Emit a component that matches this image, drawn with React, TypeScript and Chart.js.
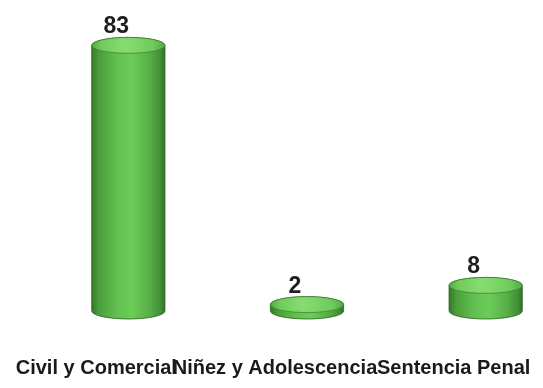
import React, { useEffect, useRef } from "react";
import { Chart, registerables } from "chart.js";

Chart.register(...registerables);

// Causas por fuero
const categories = ["Civil y Comercial", "Niñez y Adolescencia", "Sentencia Penal"];
const casos = [83, 2, 8];
const yMax = 90;

// Visual constants for the 3D cylinders
const DEPTH_SHIFT = 32; // cylinders sit behind the category labels
const CAP_RY = 8; // vertical radius of the elliptical caps
const LABEL_SHIFT = -12; // value labels sit slightly left of the cylinder axis
const FONT = "'Liberation Sans', Arial, sans-serif";
const X_AXIS_HEIGHT = 70;

const cylinderPlugin = {
  id: "cylinders",
  afterDatasetsDraw(chart: any) {
    const ctx: CanvasRenderingContext2D = chart.ctx;
    const meta = chart.getDatasetMeta(0);
    const values = chart.data.datasets[0].data as number[];
    meta.data.forEach((bar: any, i: number) => {
      const { x, y, base, width } = bar.getProps(["x", "y", "base", "width"], true);
      const cx = x + DEPTH_SHIFT;
      const rx = width / 2;
      const ry = CAP_RY;
      const left = cx - rx;
      const right = cx + rx;

      ctx.save();
      // body (side + rounded bottom + back half of the top)
      const side = ctx.createLinearGradient(left, 0, right, 0);
      side.addColorStop(0, "#357a2a");
      side.addColorStop(0.1, "#4a9e3b");
      side.addColorStop(0.35, "#62c150");
      side.addColorStop(0.55, "#6ccc58");
      side.addColorStop(0.8, "#56ad45");
      side.addColorStop(0.94, "#438f36");
      side.addColorStop(1, "#336f28");
      ctx.beginPath();
      ctx.moveTo(left, y);
      ctx.lineTo(left, base);
      ctx.ellipse(cx, base, rx, ry, 0, Math.PI, 0, true);
      ctx.lineTo(right, y);
      ctx.ellipse(cx, y, rx, ry, 0, 0, Math.PI, true);
      ctx.closePath();
      ctx.fillStyle = side;
      ctx.fill();
      ctx.strokeStyle = "rgba(45,100,35,0.8)";
      ctx.lineWidth = 1;
      ctx.stroke();

      // top cap
      const cap = ctx.createRadialGradient(cx - rx * 0.1, y, 2, cx, y, rx);
      cap.addColorStop(0, "#86dc70");
      cap.addColorStop(0.7, "#6fcb5b");
      cap.addColorStop(1, "#54a943");
      ctx.beginPath();
      ctx.ellipse(cx, y, rx, ry, 0, 0, Math.PI * 2);
      ctx.fillStyle = cap;
      ctx.fill();
      ctx.strokeStyle = "rgba(60,125,45,0.7)";
      ctx.stroke();

      // value label
      ctx.fillStyle = "#1e1e1e";
      ctx.font = `bold 23px ${FONT}`;
      ctx.textAlign = "center";
      ctx.textBaseline = "alphabetic";
      ctx.fillText(String(values[i]), cx + LABEL_SHIFT, y - ry - 4);
      ctx.restore();
    });
  },
};

export default function App() {
  const canvasRef = useRef<HTMLCanvasElement | null>(null);

  useEffect(() => {
    document.body.style.margin = "0";
    const canvas = canvasRef.current;
    if (!canvas) return;
    const chart = new Chart(canvas, {
      type: "bar",
      data: {
        labels: categories,
        datasets: [
          {
            data: casos,
            backgroundColor: "rgba(0,0,0,0)",
            borderWidth: 0,
            barPercentage: 0.41,
            categoryPercentage: 1,
          },
        ],
      },
      options: {
        animation: false,
        responsive: true,
        maintainAspectRatio: false,
        layout: { padding: { left: 7, right: 0, top: 23, bottom: 7 } },
        plugins: {
          legend: { display: false },
          tooltip: { enabled: false },
        },
        scales: {
          x: {
            grid: { display: false, drawTicks: false },
            border: { display: false },
            ticks: {
              padding: 45,
              color: "#1a1a1a",
              maxRotation: 0,
              minRotation: 0,
              autoSkip: false,
              font: { family: FONT, size: 20, weight: "bold" },
            },
            afterFit(scale: any) {
              // the labels are allowed to overlap and run to the edges
              scale.paddingLeft = 0;
              scale.paddingRight = 0;
              scale.height = X_AXIS_HEIGHT;
            },
          },
          y: {
            display: false,
            min: 0,
            max: yMax,
          },
        },
      },
      plugins: [cylinderPlugin],
    });
    return () => chart.destroy();
  }, []);

  return (
    <div style={{ position: "relative", width: 543, height: 388, background: "#ffffff" }}>
      <canvas ref={canvasRef} />
    </div>
  );
}
